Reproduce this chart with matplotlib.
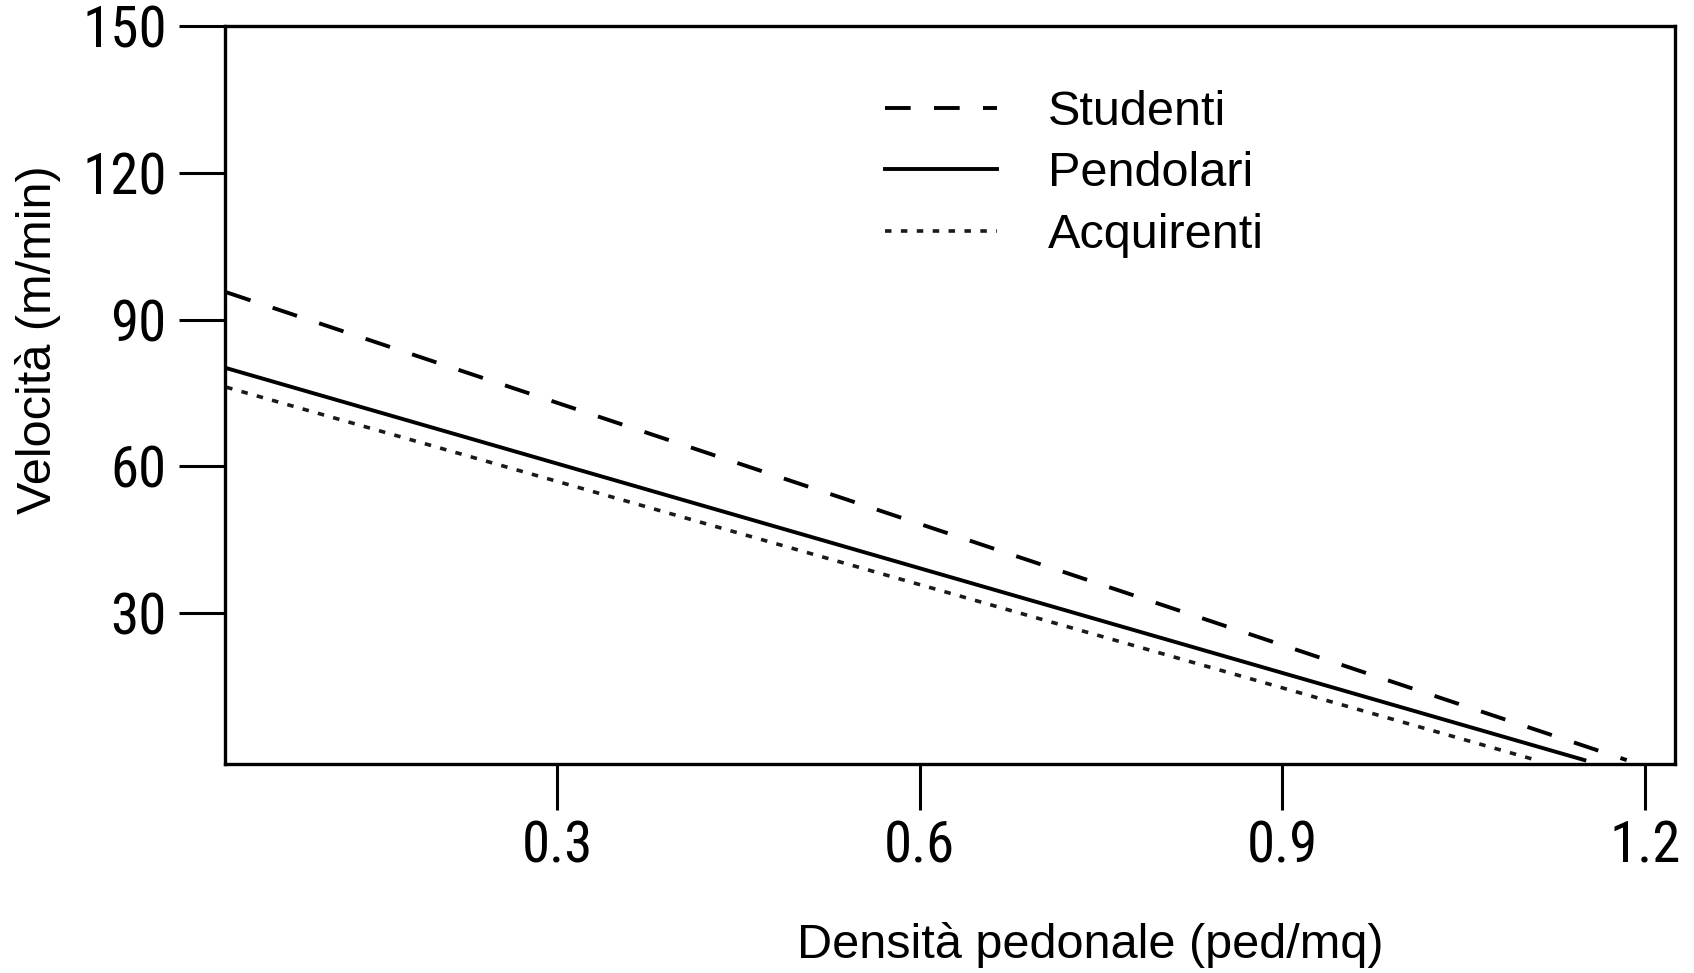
import matplotlib
matplotlib.use("Agg")
import matplotlib.pyplot as plt
from matplotlib import font_manager

# Speed-density relations for three pedestrian groups (straight lines)
groups = ["Studenti", "Pendolari", "Acquirenti"]
studenti_density = [0.026, 1.185]
studenti_speed = [95.6, 0.0]
pendolari_density = [0.026, 1.150]
pendolari_speed = [80.1, 0.0]
acquirenti_density = [0.026, 1.110]
acquirenti_speed = [76.2, 0.0]

x_ticks = [0.3, 0.6, 0.9, 1.2]
x_tick_labels = ["0.3", "0.6", "0.9", "1.2"]
y_ticks = [30, 60, 90, 120, 150]
y_tick_labels = ["30", "60", "90", "120", "150"]


def narrow_font():
    """Pick a narrow sans face for the tick numbers if one is installed."""
    preferred = []
    for f in font_manager.fontManager.ttflist:
        name = f.name.lower()
        fname = f.fname.lower()
        stretch = str(f.stretch).lower()
        if "mono" in name or "serif" in name and "sans" not in name:
            continue
        if f.style != "normal":
            continue
        if ("narrow" in name or "condensed" in name or "narrow" in fname
                or "condensed" in fname or stretch in ("condensed", "semi-condensed")):
            if str(f.weight) in ("400", "normal", "regular", "book"):
                preferred.insert(0, f)
            else:
                preferred.append(f)
    if preferred:
        return font_manager.FontProperties(fname=preferred[0].fname), True
    return font_manager.FontProperties(family="Liberation Sans"), False


tick_font, is_narrow = narrow_font()
tick_size = 41 if is_narrow else 38
tick_font.set_size(tick_size)

fig = plt.figure(figsize=(16.94, 9.73), dpi=100)
ax = fig.add_axes([0.1328, 0.2148, 0.8560, 0.7585])

ax.plot(studenti_density, studenti_speed, color="black", lw=2.8,
        dashes=(6.6, 6.0), label=groups[0])
ax.plot(pendolari_density, pendolari_speed, color="black", lw=2.8,
        label=groups[1])
ax.plot(acquirenti_density, acquirenti_speed, color="#1a1a1a", lw=2.6,
        dashes=(1.8, 2.6), label=groups[2])

ax.set_xlim(0.025, 1.225)
ax.set_ylim(-0.8, 150)

ax.set_xticks(x_ticks)
ax.set_xticklabels(x_tick_labels)
ax.set_yticks(y_ticks)
ax.set_yticklabels(y_tick_labels)

ax.tick_params(axis="both", direction="out", length=33, width=2.2,
               color="black")
ax.tick_params(axis="x", pad=7)
ax.tick_params(axis="y", pad=9)
for lab in ax.get_xticklabels() + ax.get_yticklabels():
    lab.set_fontproperties(tick_font)

for side in ["left", "right", "top", "bottom"]:
    ax.spines[side].set_linewidth(2.4)
    ax.spines[side].set_color("black")

ax.set_xlabel("Densità pedonale (ped/mq)", fontsize=35,
              fontfamily="Liberation Sans")
ax.xaxis.set_label_coords(0.597, -0.245)
ax.xaxis.label.set_verticalalignment("center")

ax.set_ylabel("Velocità (m/min)", fontsize=35, fontfamily="Liberation Sans")
ax.yaxis.set_label_coords(-0.129, 0.575)
ax.yaxis.label.set_verticalalignment("center")

ax.legend(loc="upper left", bbox_to_anchor=(0.442, 0.94),
          frameon=False, handlelength=2.3, handletextpad=1.05,
          labelspacing=0.34, borderaxespad=0,
          prop={"family": "Liberation Sans", "size": 35})

fig.savefig("out.png", dpi=100, facecolor="white")
